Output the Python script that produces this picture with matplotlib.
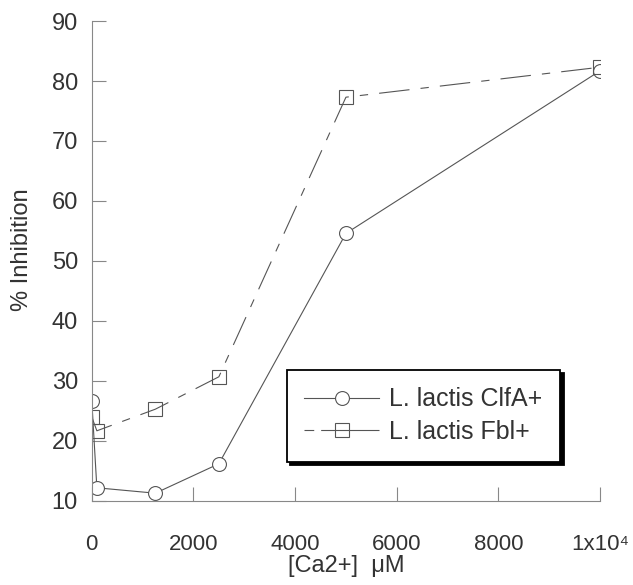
import matplotlib.pyplot as plt
import numpy as np

plt.rcParams['font.family'] = ['Liberation Sans', 'DejaVu Sans']
plt.rcParams['lines.scale_dashes'] = False

# [Ca2+] in uM and % inhibition
ca_conc = [0, 100, 1250, 2500, 5000, 10000]
clfa_inhib = [26.7, 12.2, 11.3, 16.2, 54.6, 81.7]
fbl_inhib = [24.0, 21.7, 25.3, 30.7, 77.3, 82.3]

x_ticks = [0, 2000, 4000, 6000, 8000, 10000]
x_ticklabels = ['0', '2000', '4000', '6000', '8000', '1x10\u2074']
y_ticks = [10, 20, 30, 40, 50, 60, 70, 80, 90]

line_col = '#555555'
text_col = '#333333'
axis_col = '#888888'

fig = plt.figure(figsize=(6.33, 5.85), dpi=100)
ax = fig.add_axes([0.145, 0.1436, 0.803, 0.8205])

ax.plot(ca_conc, clfa_inhib, color=line_col, lw=0.8, marker='o', ms=10,
	mfc='white', mec=line_col, mew=0.8, label='L. lactis ClfA+')
ax.plot(ca_conc, fbl_inhib, color=line_col, lw=0.8, marker='s', ms=10,
	mfc='none', mec=line_col, mew=0.8, dashes=(22, 8, 6, 8),
	label='L. lactis Fbl+')

ax.set_xlim(0, 10000)
ax.set_ylim(10, 90)
ax.set_xticks(x_ticks)
ax.set_xticklabels(x_ticklabels)
ax.set_yticks(y_ticks)

for s in ['top', 'right']:
	ax.spines[s].set_visible(False)
for s in ['left', 'bottom']:
	ax.spines[s].set_color(axis_col)
	ax.spines[s].set_linewidth(0.8)

ax.tick_params(axis='both', direction='in', length=10, width=0.8,
	color=axis_col, labelcolor=text_col)
ax.tick_params(axis='x', pad=24, labelsize=16)
ax.tick_params(axis='y', pad=10, labelsize=17)
ax.get_xticklabels()[-1].set_x(9800)

ax.set_xlabel('[Ca2+]  \u03bcM', fontsize=17, color=text_col, labelpad=0)
ax.set_ylabel('% Inhibition', fontsize=17, color=text_col)
ax.yaxis.set_label_coords(-0.116, 0.523)

leg = ax.legend(loc='upper left', bbox_to_anchor=(0.384, 0.273), borderaxespad=0,
	fontsize=18, handlelength=3.0, handletextpad=0.4, labelspacing=0.35,
	borderpad=0.7, fancybox=False, edgecolor='black', framealpha=1,
	shadow={'color': 'black', 'alpha': 1, 'ox': 2.5, 'oy': -2.5})
leg.get_frame().set_linewidth(1.3)
for t in leg.get_texts():
	t.set_color(text_col)
# short dash, gap, then solid for the Fbl+ legend handle
leg.get_lines()[1].set_dashes((7, 5, 200, 1))

fig.savefig('out.png', dpi=100)
